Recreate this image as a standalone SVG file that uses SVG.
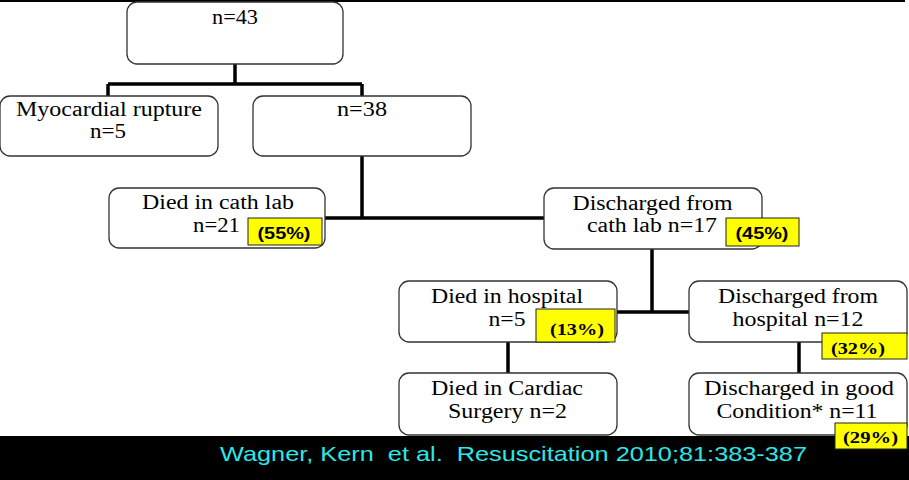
<svg xmlns="http://www.w3.org/2000/svg" width="909" height="480" viewBox="0 0 909 480">
<style>
.box{fill:#fff;stroke:#333;stroke-width:1.3}
.t{font-family:"Liberation Serif","Times New Roman",serif;font-size:20.5px;fill:#000;text-anchor:middle}
.hl{fill:#ffff00;stroke:#222;stroke-width:1}
.ps{font-family:"Liberation Sans",Arial,sans-serif;font-weight:bold;font-size:17px;fill:#000;text-anchor:middle}
.pr{font-family:"Liberation Serif","Times New Roman",serif;font-weight:bold;font-size:17.5px;fill:#000;text-anchor:middle}
.c{fill:none;stroke:#000;stroke-width:3.5}
</style>
<rect x="0" y="0" width="909" height="480" fill="#fff"/>
<line x1="0" y1="1" x2="905" y2="1" stroke="#000" stroke-width="2"/>
<g id="connectors">
<path class="c" d="M235,64 V84 M108,84 H362 M108,84 V96 M362,84 V96"/>
<path class="c" d="M362,156 V218 M325,218 H544"/>
<path class="c" d="M652,249 V312 M617,312 H689"/>
<path class="c" d="M508,342 V373"/>
<path class="c" d="M799,342 V373"/>
</g>
<g id="n43">
<rect class="box" x="127" y="2" width="216" height="62" rx="10"/>
<text class="t" x="235" y="24" textLength="46" lengthAdjust="spacingAndGlyphs">n=43</text>
</g>
<g id="rupture">
<rect class="box" x="0" y="96" width="218" height="60" rx="10"/>
<text class="t" x="109" y="116" textLength="186" lengthAdjust="spacingAndGlyphs">Myocardial rupture</text>
<text class="t" x="108" y="138" textLength="36" lengthAdjust="spacingAndGlyphs">n=5</text>
</g>
<g id="n38">
<rect class="box" x="253" y="96" width="218" height="60" rx="10"/>
<text class="t" x="362" y="116" textLength="50" lengthAdjust="spacingAndGlyphs">n=38</text>
</g>
<g id="died-cath">
<rect class="box" x="109" y="188" width="216" height="60" rx="10"/>
<text class="t" x="218" y="209" textLength="152" lengthAdjust="spacingAndGlyphs">Died in cath lab</text>
<text class="t" x="216.5" y="232" textLength="47" lengthAdjust="spacingAndGlyphs">n=21</text>
<rect class="hl" x="248" y="218" width="74" height="27"/>
<text class="ps" x="284" y="239" textLength="53" lengthAdjust="spacingAndGlyphs">(55%)</text>
</g>
<g id="discharged-cath">
<rect class="box" x="544" y="188" width="218" height="61" rx="10"/>
<text class="t" x="652.5" y="210" textLength="160" lengthAdjust="spacingAndGlyphs">Discharged from</text>
<text class="t" x="652" y="232" textLength="130" lengthAdjust="spacingAndGlyphs">cath lab n=17</text>
<rect class="hl" x="726" y="218" width="73" height="28"/>
<text class="ps" x="762" y="239" textLength="53" lengthAdjust="spacingAndGlyphs">(45%)</text>
</g>
<g id="died-hospital">
<rect class="box" x="399" y="281" width="218" height="61" rx="10"/>
<text class="t" x="507" y="303" textLength="152" lengthAdjust="spacingAndGlyphs">Died in hospital</text>
<text class="t" x="507" y="326" textLength="37" lengthAdjust="spacingAndGlyphs">n=5</text>
<rect class="hl" x="536" y="309" width="79" height="33"/>
<text class="pr" x="577" y="335" textLength="54" lengthAdjust="spacingAndGlyphs">(13%)</text>
</g>
<g id="discharged-hospital">
<rect class="box" x="689" y="281" width="218" height="61" rx="10"/>
<text class="t" x="798" y="303" textLength="160" lengthAdjust="spacingAndGlyphs">Discharged from</text>
<text class="t" x="798" y="326" textLength="131" lengthAdjust="spacingAndGlyphs">hospital n=12</text>
<rect class="hl" x="822" y="333" width="85" height="26"/>
<text class="pr" x="858" y="354" textLength="54" lengthAdjust="spacingAndGlyphs">(32%)</text>
</g>
<g id="cardiac-surgery">
<rect class="box" x="399" y="373" width="218" height="62" rx="10"/>
<text class="t" x="507" y="395" textLength="152" lengthAdjust="spacingAndGlyphs">Died in Cardiac</text>
<text class="t" x="507.5" y="418" textLength="119" lengthAdjust="spacingAndGlyphs">Surgery n=2</text>
</g>
<g id="band">
<rect x="0" y="436" width="909" height="44" fill="#000"/>
<text x="220" y="461" textLength="587" lengthAdjust="spacingAndGlyphs" xml:space="preserve" style="white-space:pre;font-family:'Liberation Sans',Arial,sans-serif;font-size:21px;fill:#2ee6e6">Wagner, Kern  et al.  Resuscitation 2010;81:383-387</text>
</g>
<g id="good-condition">
<rect class="box" x="689" y="373" width="218" height="62" rx="10"/>
<text class="t" x="799" y="395" textLength="190" lengthAdjust="spacingAndGlyphs">Discharged in good</text>
<text class="t" x="797" y="418" textLength="161" lengthAdjust="spacingAndGlyphs">Condition* n=11</text>
<rect class="hl" x="835" y="423" width="72" height="26"/>
<text class="pr" x="870.5" y="443" textLength="55" lengthAdjust="spacingAndGlyphs">(29%)</text>
</g>
</svg>
